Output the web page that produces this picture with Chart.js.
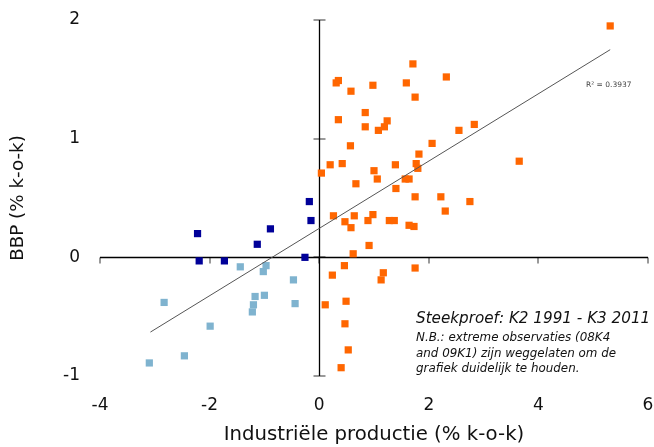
<!DOCTYPE html>
<html>
<head>
<meta charset="utf-8">
<script src="https://cdn.jsdelivr.net/npm/chart.js@4"></script>
<style>
  body { margin: 0; background: #fff; }
  #wrap { position: relative; width: 654px; height: 447px; }
  .note { position: absolute; font-family: "DejaVu Sans", sans-serif; font-style: italic; color: #111; white-space: nowrap; }
  #r2 { position: absolute; left: 586px; top: 80px; font-family: "DejaVu Sans", sans-serif; font-size: 7.5px; color: #444; }
</style>
</head>
<body>
<div id="wrap">
  <canvas id="chart" width="654" height="447"></canvas>
  <div id="r2">R² = 0.3937</div>
  <div class="note" style="left:416px; top:309px; font-size:15.2px;">Steekproef: K2 1991 - K3 2011</div>
  <div class="note" style="left:416px; top:330px; font-size:11.9px; line-height:15.5px;">N.B.: extreme observaties (08K4<br>and 09K1) zijn weggelaten om de<br>grafiek duidelijk te houden.</div>
</div>
<script>
// observaties [industriële productie, BBP]
const orangePoints = [
  [5.31, 1.95], [1.71, 1.63], [0.35, 1.49], [0.31, 1.47], [0.58, 1.40], [0.98, 1.45],
  [1.59, 1.47], [2.32, 1.52], [1.75, 1.35], [0.84, 1.22], [0.35, 1.16], [0.84, 1.10],
  [1.24, 1.15], [1.19, 1.10], [1.08, 1.07], [2.55, 1.07], [2.83, 1.12], [0.57, 0.94],
  [2.06, 0.96], [1.82, 0.87], [0.20, 0.78], [0.42, 0.79], [1.39, 0.78], [1.77, 0.79],
  [1.80, 0.75], [3.65, 0.81], [0.04, 0.71], [1.00, 0.73], [1.06, 0.66], [1.57, 0.66],
  [1.64, 0.66], [0.67, 0.62], [1.40, 0.58], [1.75, 0.51], [2.22, 0.51], [2.75, 0.47],
  [2.30, 0.39], [0.26, 0.35], [0.64, 0.35], [0.98, 0.36], [0.47, 0.30], [0.89, 0.31],
  [1.28, 0.31], [1.37, 0.31], [0.58, 0.25], [1.64, 0.27], [1.73, 0.26], [0.91, 0.10],
  [0.62, 0.03], [0.46, -0.07], [1.75, -0.09], [0.24, -0.15], [1.17, -0.13], [1.13, -0.19],
  [0.11, -0.40], [0.49, -0.37], [0.47, -0.56], [0.53, -0.78], [0.40, -0.93]
];
const darkBluePoints = [
  [-0.18, 0.47], [-0.15, 0.31], [-2.22, 0.20], [-0.89, 0.24],
  [-1.13, 0.11], [-2.19, -0.03], [-1.73, -0.03], [-0.26, 0.00]
];
const lightBluePoints = [
  [-1.44, -0.08], [-0.97, -0.07], [-1.02, -0.12], [-0.47, -0.19], [-2.83, -0.38],
  [-1.17, -0.33], [-1.00, -0.32], [-1.20, -0.40], [-1.22, -0.46], [-0.44, -0.39],
  [-1.99, -0.58], [-2.46, -0.83], [-3.10, -0.89]
];
const trendPoints = [[-3.08, -0.63], [5.31, 1.75]];

const xTicks = [-4, -2, 0, 2, 4, 6];
const yTicks = [-1, 0, 1, 2];

const toXY = arr => arr.map(p => ({ x: p[0], y: p[1] }));

// assen kruisen in (0,0), zoals in Excel
const crossAxes = {
  id: 'crossAxes',
  beforeDatasetsDraw(chart) {
    const ctx = chart.ctx;
    const xs = chart.scales.x, ys = chart.scales.y;
    const x0 = Math.round(xs.getPixelForValue(0)) + 0.5;
    const y0 = Math.round(ys.getPixelForValue(0)) + 0.5;
    ctx.save();
    // tick marks
    ctx.strokeStyle = '#999';
    ctx.lineWidth = 2;
    yTicks.forEach(v => {
      const py = Math.round(ys.getPixelForValue(v));
      ctx.beginPath();
      ctx.moveTo(x0 - 6, py);
      ctx.lineTo(x0 + 6, py);
      ctx.stroke();
    });
    xTicks.forEach(v => {
      const px = Math.round(xs.getPixelForValue(v));
      ctx.beginPath();
      ctx.moveTo(px, y0);
      ctx.lineTo(px, y0 + 6);
      ctx.stroke();
    });
    ctx.strokeStyle = '#000';
    ctx.lineWidth = 1.3;
    ctx.beginPath();
    ctx.moveTo(chart.chartArea.left, y0);
    ctx.lineTo(chart.chartArea.right, y0);
    ctx.moveTo(x0, chart.chartArea.top);
    ctx.lineTo(x0, chart.chartArea.bottom);
    ctx.stroke();
    ctx.restore();
  }
};

const tickFont = { family: '"DejaVu Sans", sans-serif', size: 17 };

new Chart(document.getElementById('chart'), {
  type: 'scatter',
  data: {
    datasets: [
      {
        type: 'line',
        data: toXY(trendPoints),
        borderColor: '#555',
        borderWidth: 1,
        pointRadius: 0,
        fill: false
      },
      {
        data: toXY(lightBluePoints),
        backgroundColor: '#7fb3cf',
        pointStyle: 'rect',
        pointRadius: 5.1,
        borderWidth: 0
      },
      {
        data: toXY(darkBluePoints),
        backgroundColor: '#000099',
        pointStyle: 'rect',
        pointRadius: 5.1,
        borderWidth: 0
      },
      {
        data: toXY(orangePoints),
        backgroundColor: '#ff6600',
        pointStyle: 'rect',
        pointRadius: 5.1,
        borderWidth: 0
      }
    ]
  },
  options: {
    responsive: false,
    animation: false,
    layout: { padding: { top: 20, right: 6, bottom: 0, left: 0 } },
    plugins: { legend: { display: false }, tooltip: { enabled: false } },
    scales: {
      x: {
        min: -4,
        max: 6,
        grid: { display: false, drawTicks: false },
        border: { display: false },
        afterBuildTicks: s => { s.ticks = xTicks.map(v => ({ value: v })); },
        afterFit: s => { s.height = 71; s.paddingLeft = 0; s.paddingRight = 0; },
        ticks: { font: tickFont, color: '#111', padding: 19, maxRotation: 0 },
        title: {
          display: true,
          text: 'Industriële productie (% k-o-k)',
          font: { family: '"DejaVu Sans", sans-serif', size: 19.7 },
          color: '#111',
          padding: { top: 0, bottom: 0 }
        }
      },
      y: {
        min: -1,
        max: 2,
        grid: { display: false, drawTicks: false },
        border: { display: false },
        afterBuildTicks: s => { s.ticks = yTicks.map(v => ({ value: v })); },
        afterFit: s => { s.width = 100; s.paddingTop = 0; s.paddingBottom = 0; },
        ticks: { font: tickFont, color: '#111', padding: 20 },
        title: {
          display: true,
          text: 'BBP (% k-o-k)',
          font: { family: '"DejaVu Sans", sans-serif', size: 18.3 },
          color: '#111',
          padding: { top: 7, bottom: 0 }
        }
      }
    }
  },
  plugins: [crossAxes]
});
</script>
</body>
</html>
